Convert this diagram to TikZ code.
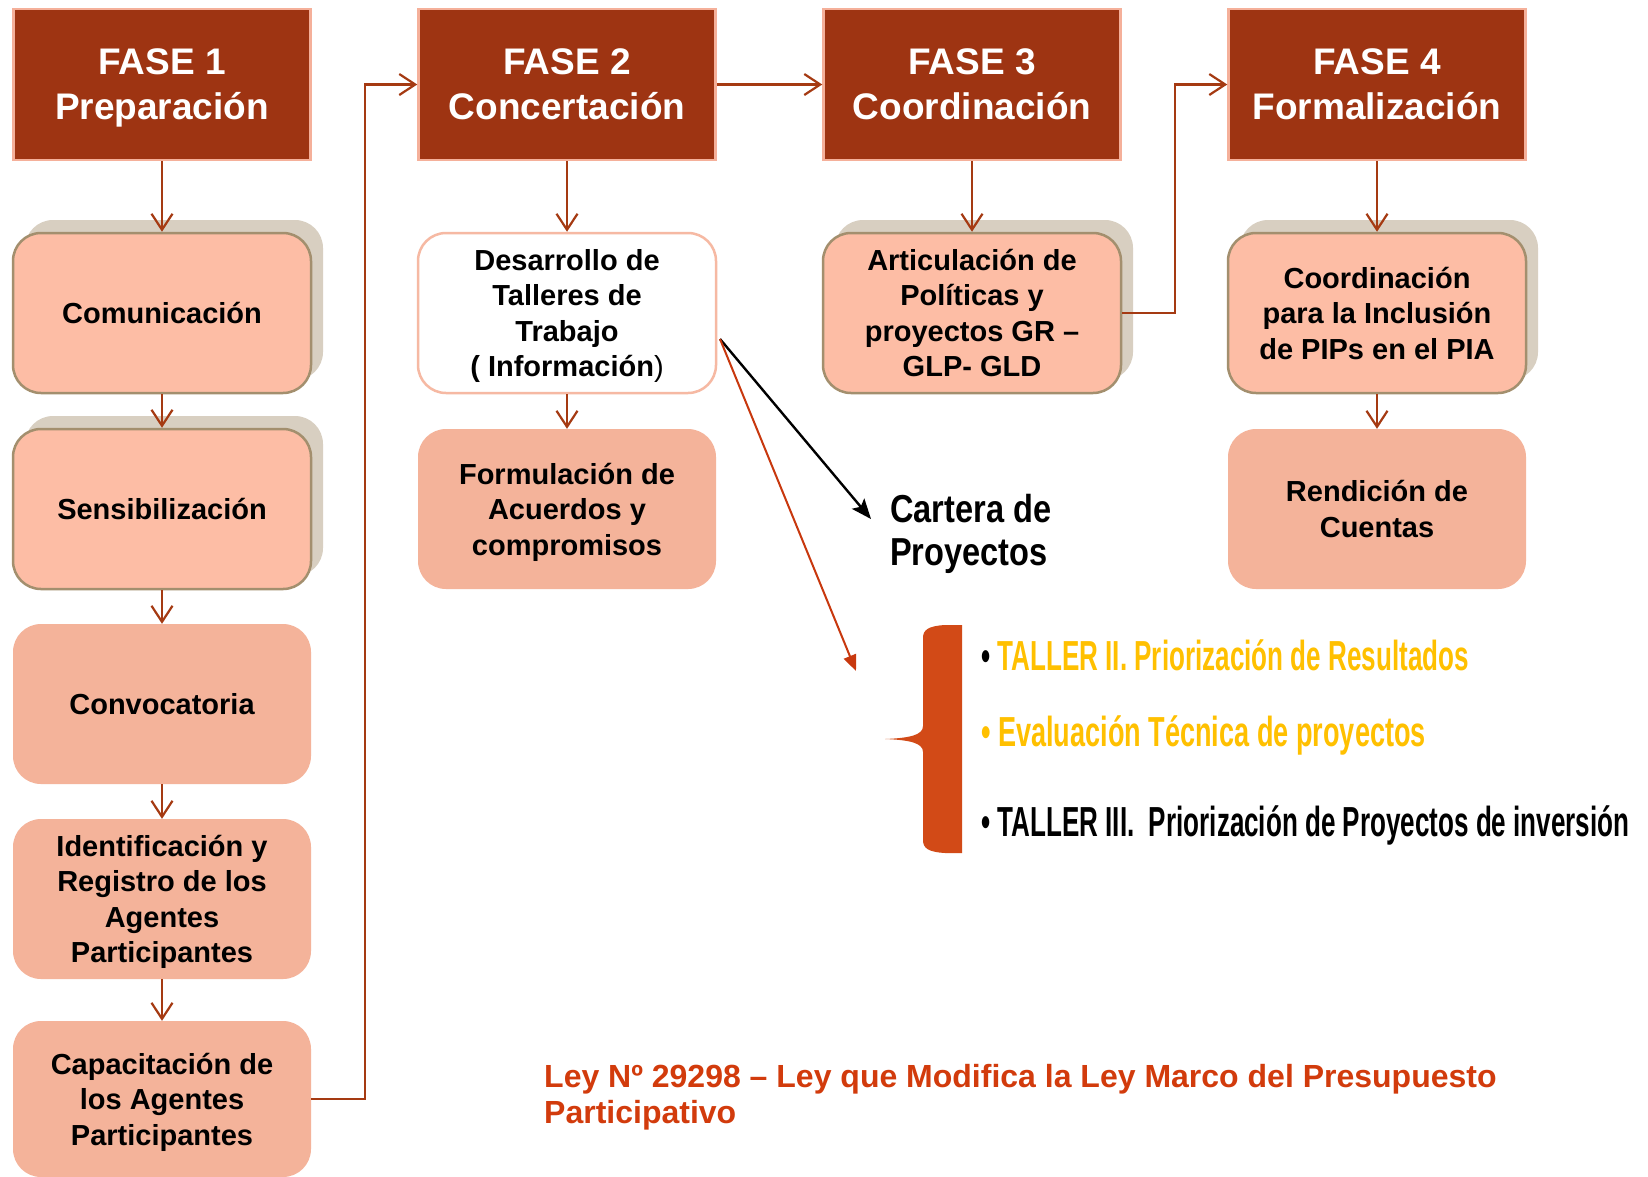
\documentclass[tikz,border=0pt]{standalone}
\usepackage{fontspec}
\setmainfont{Liberation Sans}
\newfontfamily\condfont[FakeStretch=0.62]{Liberation Sans}
\newfontfamily\condwidefont[FakeStretch=0.645]{Liberation Sans}
\newfontfamily\cartfont[FakeStretch=0.835]{Liberation Sans}
\usetikzlibrary{arrows.meta,shadows}
\definecolor{fasefill}{HTML}{9E3412}
\definecolor{fasedraw}{HTML}{F5B09A}
\definecolor{arrowcol}{HTML}{A53A12}
\definecolor{sboxfill}{HTML}{FDBDA5}
\definecolor{sboxdraw}{HTML}{A38F6E}
\definecolor{shadowcol}{HTML}{D8CFC1}
\definecolor{pboxfill}{HTML}{F4B39A}
\definecolor{desdraw}{HTML}{F6B9A3}
\definecolor{bracecol}{HTML}{D24A17}
\definecolor{goldcol}{HTML}{FFC000}
\definecolor{leycol}{HTML}{D23B0C}
\definecolor{redline}{HTML}{C8380E}
\begin{document}
\begin{tikzpicture}[x=1pt,y=-1pt,
  fase/.style={rectangle, fill=fasefill, draw=fasedraw, line width=2.5pt,
    minimum width=297pt, minimum height=151pt, inner sep=0pt, align=center,
    text depth=-4pt, text=white, font=\fontsize{37}{45}\selectfont\bfseries},
  boxbase/.style={rectangle, rounded corners=28pt, minimum width=298pt,
    minimum height=160pt, inner sep=0pt, align=center, text depth=-2pt,
    font=\fontsize{29}{35.5}\selectfont\bfseries},
  sbox/.style={boxbase, fill=sboxfill, draw=sboxdraw, line width=2.5pt,
    general shadow={fill=shadowcol, draw=none, shadow xshift=12pt, shadow yshift=13pt}},
  pbox/.style={boxbase, fill=pboxfill},
  wbox/.style={boxbase, fill=white, draw=desdraw, line width=2.5pt},
  conn/.style={draw=arrowcol, line width=2.2pt, -{Straight Barb[length=16pt,width=21pt]}},
  blk/.style={draw=black, line width=2.4pt, -{Stealth[length=20pt,width=16pt,inset=4pt]}},
  redarr/.style={draw=redline, line width=2pt, -{Triangle[length=16pt,width=13pt]}},
  bullettext/.style={anchor=base west, inner sep=0pt, font=\fontsize{42}{48}\condfont\bfseries},
  carttext/.style={anchor=base west, inner sep=0pt, font=\fontsize{39}{42}\cartfont\bfseries},
  leytext/.style={anchor=base west, inner sep=0pt, text=leycol, font=\fontsize{32}{36}\selectfont\bfseries}
]
\useasboundingbox[fill=white] (0,0) rectangle (1648,1176);

% phase headers
\node[fase] (f1) at (162,84.5) {FASE 1\\Preparación};
\node[fase] (f2) at (567,84.5) {FASE 2\\Concertación};
\node[fase] (f3) at (972,84.5) {FASE 3\\Coordinación};
\node[fase] (f4) at (1377,84.5) {FASE 4\\Formalización};

% column 1
\node[sbox] (com) at (162,313) {Comunicación};
\node[sbox] (sen) at (162,509) {Sensibilización};
\node[pbox] (conv) at (162,704) {Convocatoria};
\node[pbox] (ide) at (162,899) {Identificación y\\Registro de los\\Agentes\\Participantes};
\node[pbox, minimum height=156pt] (cap) at (162,1099) {Capacitación de\\los Agentes\\Participantes};

% column 2
\node[wbox] (des) at (567,313) {Desarrollo de\\Talleres de\\Trabajo\\( Información{\mdseries)}};
\node[pbox] (for) at (567,509) {Formulación de\\Acuerdos y\\compromisos};

% column 3
\node[sbox] (art) at (972,313) {Articulación de\\Políticas y\\proyectos GR –\\GLP- GLD};

% column 4
\node[sbox] (coo) at (1377,313) {Coordinación\\para la Inclusión\\de PIPs en el PIA};
\node[pbox] (ren) at (1377,509) {Rendición de\\Cuentas};

% connectors
\draw[conn] (f1) -- (com);
\draw[conn] (com) -- (sen);
\draw[conn] (sen) -- (conv);
\draw[conn] (conv) -- (ide);
\draw[conn] (ide) -- (cap);
\draw[conn] (cap.east) -- ++(54,0) |- (f2.west);
\draw[conn] (f2) -- (des);
\draw[conn] (des) -- (for);
\draw[conn] (f2) -- (f3);
\draw[conn] (f3) -- (art);
\draw[conn] (art.east) -- ++(53,0) |- (f4.west);
\draw[conn] (f4) -- (coo);
\draw[conn] (coo) -- (ren);

% pointers from Desarrollo
\coordinate (src) at (720,339);
\coordinate (cartip) at (871,519);
\coordinate (bracetip) at (856,671);
\draw[blk] (src) -- (cartip);
\draw[redarr] (src) -- (bracetip);

% Cartera de Proyectos
\node[carttext] (car1) at (890,522) {Cartera de};
\node[carttext] (car2) at (890,565) {Proyectos};

% brace
\fill[bracecol] (962,625) -- (945,625)
  .. controls (928,626) and (923,630) .. (923,638)
  -- (923,726)
  .. controls (923,735) and (910,738) .. (885,739)
  .. controls (910,740) and (923,743) .. (923,752)
  -- (923,840)
  .. controls (923,848) and (928,852) .. (945,853)
  -- (962,853) -- cycle;

% bullet list
\node[bullettext] (b1) at (981,670) {\textbullet\ \textcolor{goldcol}{TALLER II. Priorización de Resultados}};
\node[bullettext, text=goldcol, font=\fontsize{42}{48}\condwidefont\bfseries] (b2) at (981,746) {\textbullet\ Evaluación Técnica de proyectos};
\node[bullettext] (b3) at (981,836) {\textbullet\ TALLER III.\ \ Priorización de Proyectos de inversión};

% law
\node[leytext] (ley1) at (544,1087) {Ley Nº 29298 – Ley que Modifica la Ley Marco del Presupuesto};
\node[leytext] (ley2) at (544,1123) {Participativo};
\end{tikzpicture}
\end{document}
